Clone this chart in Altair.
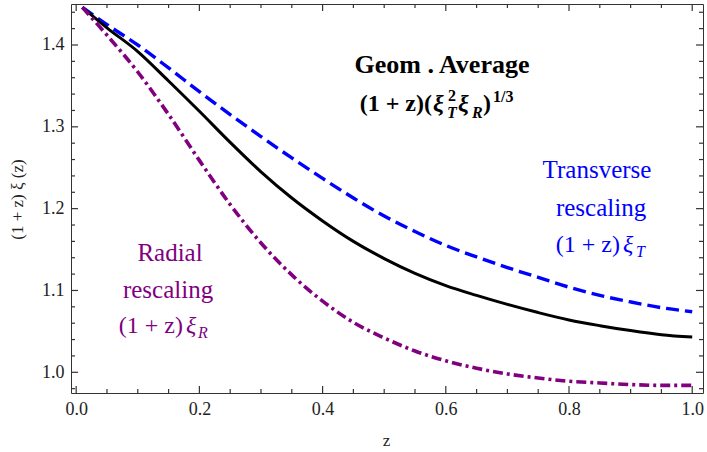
import altair as alt
import pandas as pd

# ---- data ----
z_vals = [0.01, 0.05, 0.10, 0.15, 0.20, 0.25, 0.30, 0.35, 0.40, 0.45, 0.50,
          0.55, 0.60, 0.65, 0.70, 0.75, 0.80, 0.85, 0.90, 0.95, 1.00]
transverse = [1.446, 1.425, 1.400, 1.372, 1.343, 1.315, 1.288, 1.262, 1.237, 1.213, 1.191,
              1.172, 1.155, 1.141, 1.128, 1.116, 1.104, 1.094, 1.086, 1.079, 1.074]
geom_avg = [1.446, 1.421, 1.392, 1.356, 1.319, 1.281, 1.245, 1.213, 1.185, 1.160, 1.139,
            1.121, 1.106, 1.094, 1.083, 1.073, 1.064, 1.057, 1.051, 1.046, 1.043]
radial = [1.446, 1.412, 1.367, 1.315, 1.259, 1.205, 1.158, 1.119, 1.087, 1.061, 1.042,
          1.026, 1.014, 1.005, 0.998, 0.993, 0.989, 0.987, 0.985, 0.984, 0.984]

x_major = [0.0, 0.2, 0.4, 0.6, 0.8, 1.0]
x_minor = [0.05, 0.1, 0.15, 0.25, 0.3, 0.35, 0.45, 0.5, 0.55,
           0.65, 0.7, 0.75, 0.85, 0.9, 0.95]
y_major = [1.0, 1.1, 1.2, 1.3, 1.4]
y_minor = [0.98, 1.02, 1.04, 1.06, 1.08, 1.12, 1.14, 1.16, 1.18, 1.22, 1.24,
           1.26, 1.28, 1.32, 1.34, 1.36, 1.38, 1.42, 1.44]

W, H = 632, 389
PAD_L, PAD_T = 71, 4
FONT = "Liberation Serif"
FRAME = "#333333"
MAJ, MIN = 7, 4

xs = alt.Scale(domain=[-0.0084, 1.0175], nice=False, zero=False)
ys = alt.Scale(domain=[0.9747, 1.4501], nice=False, zero=False)

lines_df = pd.concat([
    pd.DataFrame({"z": z_vals, "v": transverse, "s": "Transverse"}),
    pd.DataFrame({"z": z_vals, "v": geom_avg, "s": "Geom"}),
    pd.DataFrame({"z": z_vals, "v": radial, "s": "Radial"}),
])

x_axis = alt.Axis(
    values=x_major, ticks=False, domain=False, grid=False, format=".1f", labelPadding=7,
    labelFont=FONT, labelFontSize=18, labelColor="#222222",
    title="z", titleFont=FONT, titleFontSize=17, titleFontWeight="normal", titleColor="#222222",
    titleBaseline="middle", titleY=47, titleX=315)
y_axis = alt.Axis(
    values=y_major, ticks=False, domain=False, grid=False, format=".1f", labelPadding=7,
    labelFont=FONT, labelFontSize=18, labelColor="#222222",
    title="(1 + z) ξ (z)", titleFont=FONT, titleFontSize=17, titleFontWeight="normal",
    titleColor="#222222", titleBaseline="middle", titleX=-54, titleY=195, titleAngle=-90)


def series(name, color, width, dash=None, with_axes=False):
    kw = dict(color=color, strokeWidth=width, interpolate="monotone")
    if dash:
        kw["strokeDash"] = dash
    return alt.Chart(lines_df).transform_filter(alt.datum.s == name).mark_line(**kw).encode(
        x=alt.X("z:Q", scale=xs, axis=x_axis if with_axes else None),
        y=alt.Y("v:Q", scale=ys, axis=y_axis if with_axes else None))


blue = series("Transverse", "#0000FF", 3.4, [13, 6], with_axes=True)
black = series("Geom", "black", 3)
purple = series("Radial", "#800080", 3.6, [10, 4, 3, 4])


# inward frame ticks, placed through the scales
def xticks(vals, length, top):
    d = pd.DataFrame({"t": vals})
    y0, y1 = (0, length) if top else (H, H - length)
    return alt.Chart(d).mark_rule(color=FRAME, strokeWidth=1.2).encode(
        x=alt.X("t:Q", scale=xs, axis=None), y=alt.value(y0), y2=alt.value(y1))


def yticks(vals, length, right):
    d = pd.DataFrame({"t": vals})
    x0, x1 = (W, W - length) if right else (0, length)
    return alt.Chart(d).mark_rule(color=FRAME, strokeWidth=1.2).encode(
        y=alt.Y("t:Q", scale=ys, axis=None), x=alt.value(x0), x2=alt.value(x1))


ticks = [
    xticks(x_major, MAJ, False), xticks(x_minor, MIN, False),
    xticks(x_major, MAJ, True), xticks(x_minor, MIN, True),
    yticks(y_major, MAJ, False), yticks(y_minor, MIN, False),
    yticks(y_major, MAJ, True), yticks(y_minor, MIN, True),
]


def label(txt, x, y, size, color, align="left", bold=False, italic=False):
    return alt.Chart(alt.Data(values=[{}])).mark_text(
        text=txt, font=FONT, fontSize=size, color=color, align=align, baseline="alphabetic",
        fontWeight="bold" if bold else "normal", fontStyle="italic" if italic else "normal",
    ).encode(x=alt.value(x - PAD_L), y=alt.value(y - PAD_T))


BLUE, PURP = "#0000FF", "#800080"
texts = [
    label("Transverse", 597, 178, 25, BLUE, "center"),
    label("rescaling", 601, 216, 25, BLUE, "center"),
    label("(1 + z)", 620, 252, 24, BLUE, "right"),
    label("ξ", 623, 252, 24, BLUE, italic=True),
    label("T", 636, 257, 16, BLUE, italic=True),
    label("Radial", 170, 261, 25, PURP, "center"),
    label("rescaling", 168, 298, 25, PURP, "center"),
    label("(1 + z)", 183, 333, 24, PURP, "right"),
    label("ξ", 186, 333, 24, PURP, italic=True),
    label("R", 198, 338, 16, PURP, italic=True),
    label("Geom . Average", 442, 73, 26, "black", "center", bold=True),
    label("(1 + z)(", 432, 111, 24, "black", "right", bold=True),
    label("ξ", 433, 111, 24, "black", bold=True, italic=True),
    label("2", 448, 101, 16, "black", bold=True),
    label("T", 447, 118, 16, "black", bold=True, italic=True),
    label("ξ", 458, 111, 24, "black", bold=True, italic=True),
    label("R", 472, 118, 16, "black", bold=True, italic=True),
    label(")", 483, 111, 24, "black", bold=True),
    label("1/3", 493, 102, 16, "black", bold=True),
]

chart = alt.layer(blue, black, purple, *ticks, *texts).resolve_axis(
    x="independent", y="independent"
).properties(
    width=W, height=H,
    autosize=alt.AutoSizeParams(type="none"),
    padding={"left": PAD_L, "top": PAD_T, "right": 707 - PAD_L - W, "bottom": 452 - PAD_T - H},
    background="white",
).configure_view(stroke=FRAME, strokeWidth=1).configure_axis(
    labelFont=FONT, labelFontSize=18, titleFont=FONT, titleFontSize=17, titleFontWeight="normal",
)

chart.save("out.html", embed_options={"renderer": "svg", "actions": False})
